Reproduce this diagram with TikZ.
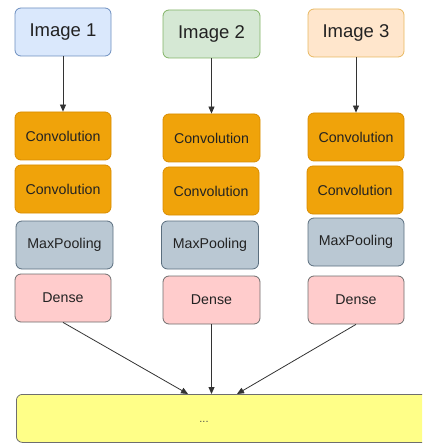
\documentclass[tikz,border=0pt]{standalone}
\usepackage{fontspec}
\setmainfont{Liberation Sans}
\usetikzlibrary{arrows.meta}
\definecolor{imgAfill}{HTML}{DAE8FC}\definecolor{imgAline}{HTML}{6C8EBF}
\definecolor{imgBfill}{HTML}{D5E8D4}\definecolor{imgBline}{HTML}{82B366}
\definecolor{imgCfill}{HTML}{FFE6CC}\definecolor{imgCline}{HTML}{E8B860}
\definecolor{convfill}{HTML}{F0A30A}\definecolor{convline}{HTML}{D98C00}
\definecolor{poolfill}{HTML}{BAC8D3}\definecolor{poolline}{HTML}{5A6E7E}
\definecolor{densefill}{HTML}{FFCCCC}\definecolor{denseline}{HTML}{6E6E6E}
\definecolor{outfill}{HTML}{FFFF88}\definecolor{outline}{HTML}{6E6E6E}
\definecolor{txt}{HTML}{222222}
\tikzset{
  block/.style={draw, rounded corners=6pt, line width=0.8pt, minimum width=96pt,
    minimum height=48pt, inner sep=0pt, text=txt, font=\fontsize{14.2}{16}\selectfont},
  imgbox/.style={block, font=\fontsize{18.5}{21}\selectfont},
  convbox/.style={block, fill=convfill, draw=convline},
  poolbox/.style={block, fill=poolfill, draw=poolline, minimum width=97pt},
  densebox/.style={block, fill=densefill, draw=denseline},
  link/.style={draw=black!80, line width=0.8pt, -{Triangle[length=7pt,width=6pt]}}
}
\begin{document}
\begin{tikzpicture}[x=1pt,y=-1pt]
\useasboundingbox (0,0) rectangle (422,443);
\clip (0,0) rectangle (422,443);
% inputs
\node[imgbox, fill=imgAfill, draw=imgAline] (i1) at (63,32) {Image 1};
\node[imgbox, fill=imgBfill, draw=imgBline, minimum width=97pt] (i2) at (211.5,34) {Image 2};
\node[imgbox, fill=imgCfill, draw=imgCline] (i3) at (356,33) {Image 3};
% branch 1
\node[convbox] (c11) at (63,136) {Convolution};
\node[convbox] (c12) at (63,189) {Convolution};
\node[poolbox] (p1) at (64.5,245) {MaxPooling};
\node[densebox] (d1) at (63,298) {Dense};
% branch 2
\node[convbox, minimum width=97pt] (c21) at (211.5,138) {Convolution};
\node[convbox] (c22) at (211,191) {Convolution};
\node[poolbox] (p2) at (210,245) {MaxPooling};
\node[densebox, minimum width=97pt] (d2) at (211.5,300) {Dense};
% branch 3
\node[convbox] (c31) at (356,137) {Convolution};
\node[convbox] (c32) at (355,190) {Convolution};
\node[poolbox, minimum width=96pt] (p3) at (356,242) {MaxPooling};
\node[densebox] (d3) at (356,300) {Dense};
% merged output
\node[block, fill=outfill, draw=outline, minimum width=430pt, anchor=north west] (out) at (16,394) {};
\node[text=black!70, font=\fontsize{11}{13}\selectfont] (dots) at (204,421.5) {...};
\coordinate (m1) at (188,394);
\coordinate (m2) at (211,394);
\coordinate (m3) at (237,394);
% connectors
\draw[link] (i1.south) -- (c11.north);
\draw[link] (i2.south) -- (i2.south |- c21.north);
\draw[link] (i3.south) -- (c31.north);
\draw[link] (d1.south) -- (m1);
\draw[link] (d2.south) -- (d2.south |- m2);
\draw[link] (d3.south) -- (m3);
\end{tikzpicture}
\end{document}
